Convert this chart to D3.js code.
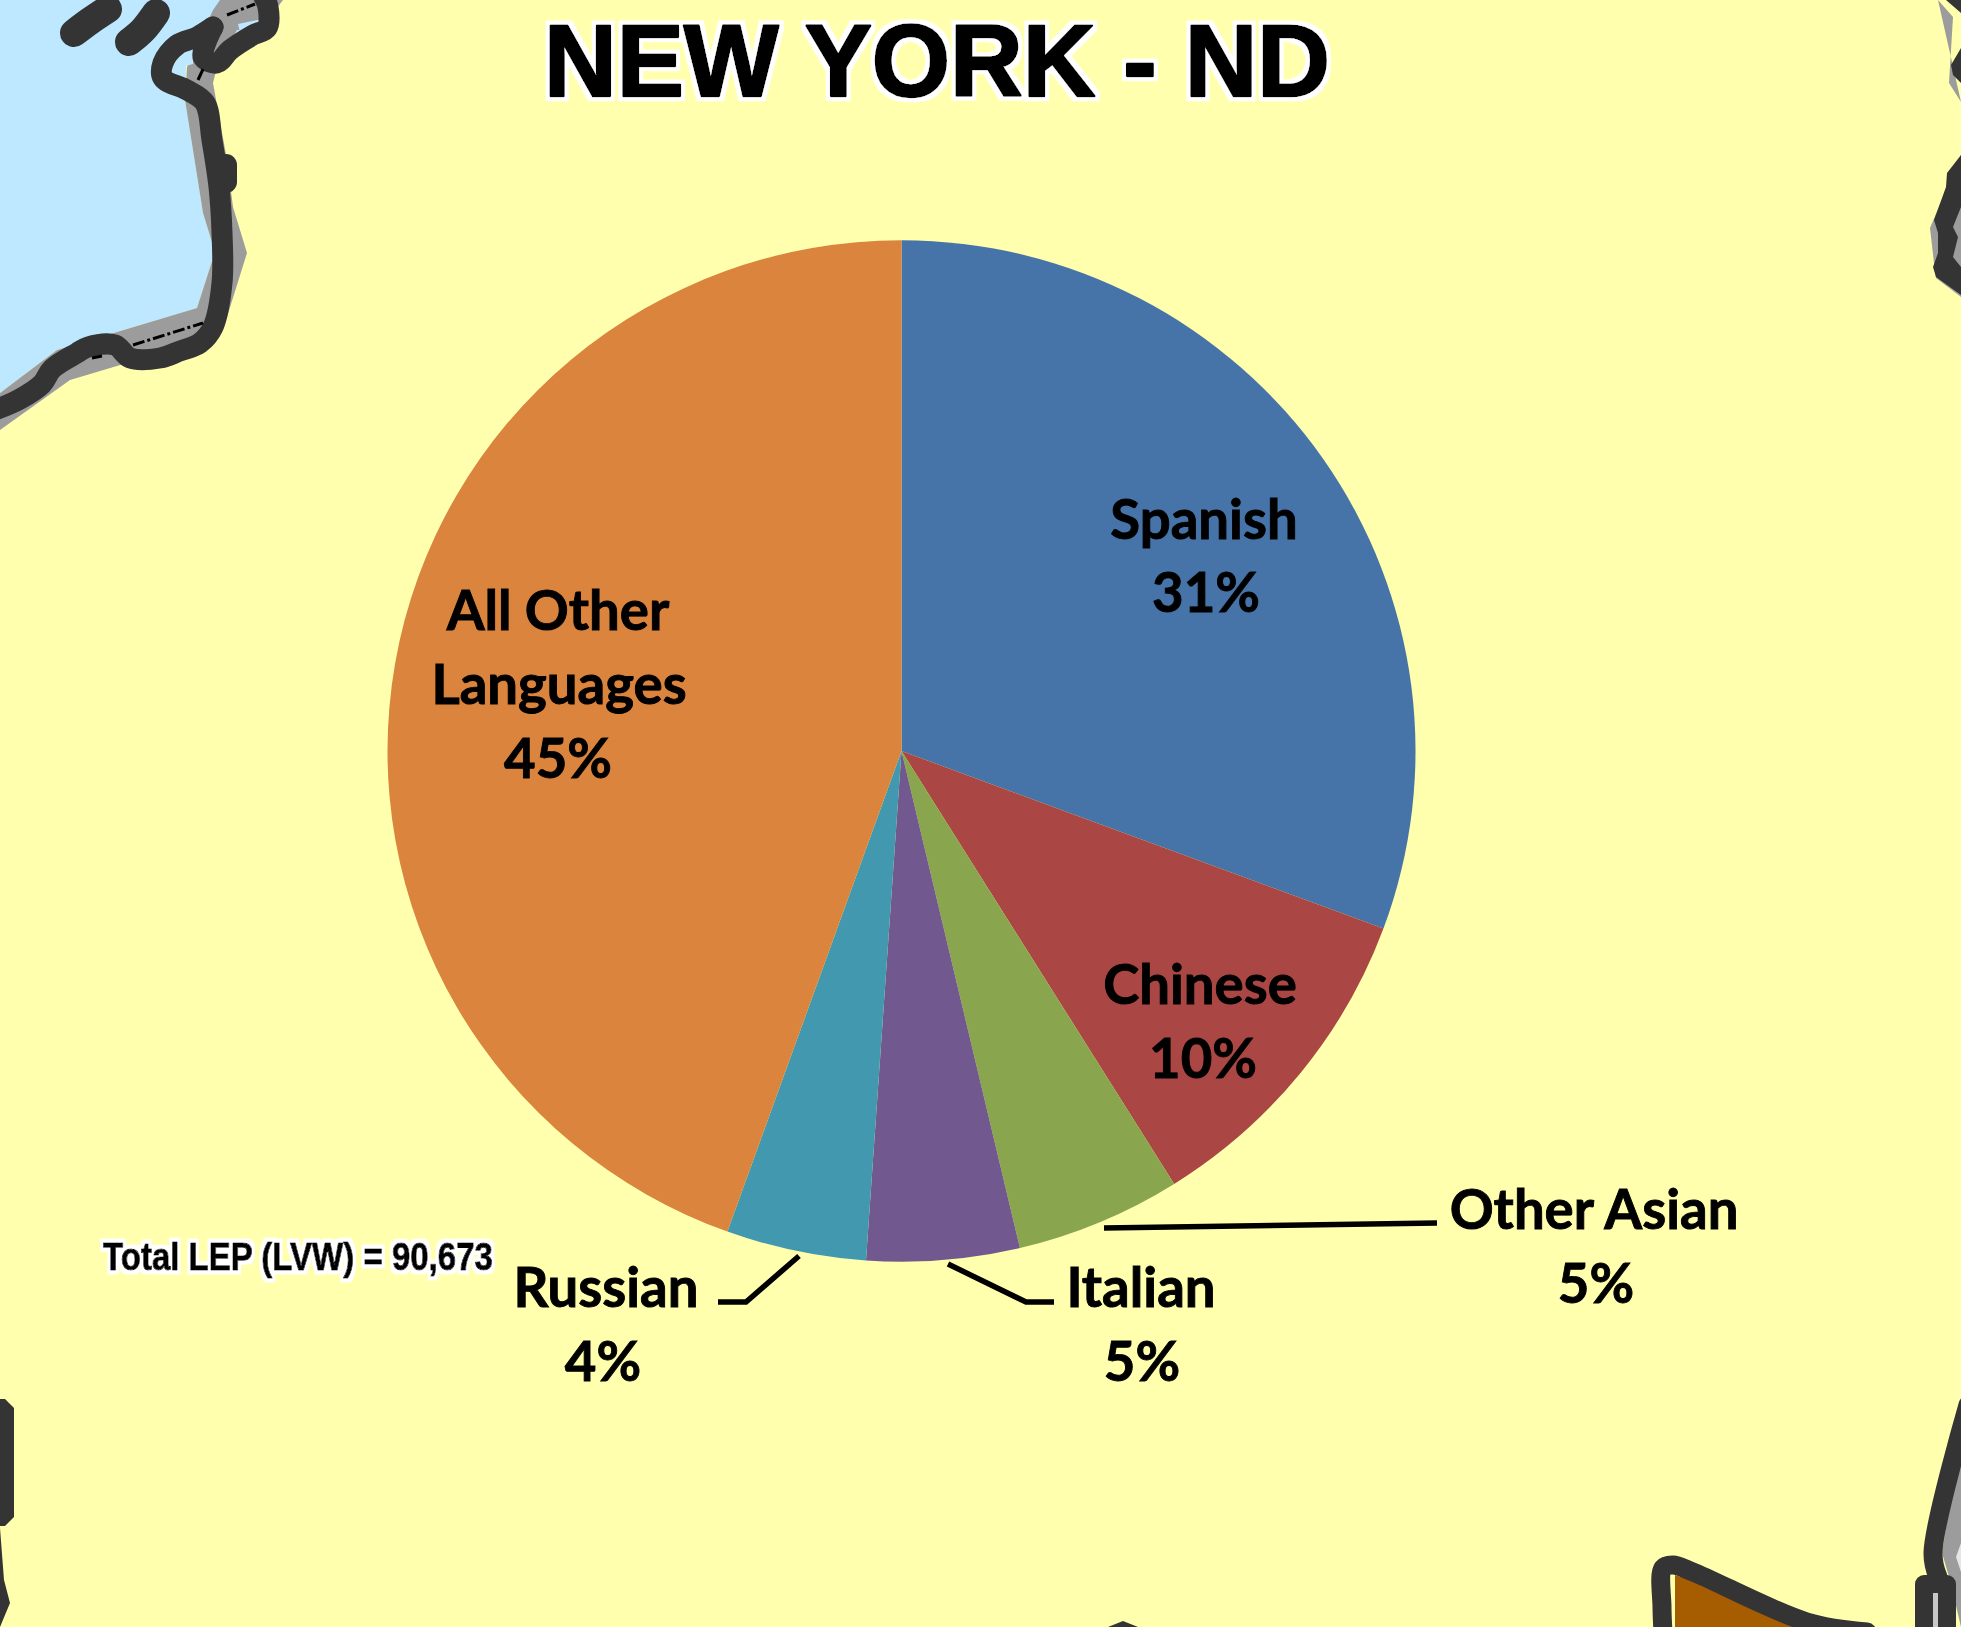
<!DOCTYPE html>
<html>
<head>
<meta charset="utf-8">
<title>NEW YORK - ND</title>
<style>
    html, body { margin: 0; padding: 0; background: #ffffad; }
    svg { display: block; }
    .label { font-family: Lato, sans-serif; font-weight: 700; font-size: 54.5px; fill: #000; stroke: #000; stroke-width: 0.9px; text-anchor: middle; }
    .outlined { font-family: "Liberation Sans", Arial, sans-serif; font-weight: 700; fill: #000; stroke: #000; stroke-linejoin: round; }
</style>
<script src="https://cdnjs.cloudflare.com/ajax/libs/d3/7.8.5/d3.min.js"></script>
</head>
<body>
<script>

    // chart data
    var titleText = "NEW YORK - ND";
    var totalText = "Total LEP (LVW) = 90,673";
    var categories = ["Spanish", "Chinese", "Other Asian", "Italian", "Russian", "All Other Languages"];
    var shares = [30.65, 10.45, 5.2, 4.8, 4.4, 44.5];
    var shareLabels = ["31%", "10%", "5%", "5%", "4%", "45%"];
    var sliceColors = ["#4674a8", "#aa4644", "#89a54e", "#71588f", "#4198af", "#db843d"];

    // label lines, one row per slice: [text, x, baseline]
    var labelLines = [
      [[categories[0], 1204, 539], [shareLabels[0], 1206, 612]],
      [[categories[1], 1200, 1004], [shareLabels[1], 1203, 1078]],
      [[categories[2], 1594, 1229], [shareLabels[2], 1596, 1303]],
      [[categories[3], 1141, 1307], [shareLabels[3], 1142, 1381]],
      [[categories[4], 606, 1307], [shareLabels[4], 603, 1381]],
      [["All Other", 558, 630], ["Languages", 559, 704], [shareLabels[5], 558, 778]]
    ];

    var leaders = [
      [[1437, 1223], [1104, 1228]],
      [[1054, 1302], [1026, 1302], [948, 1264]],
      [[718, 1302], [746, 1302], [799, 1256]]
    ];

    // background map pieces, traced in page pixels
    var water = [[0,0],[265,0],[262,24],[258,24],[186,66],[185,100],[203,213],[215,252],[197,308],[57,350],[0,393]];
    var shoreBand = [[283,0],[260,30],[237,30],[217,67],[213,83],[227,160],[233,207],[247,253],[227,317],[210,347],[127,363],[70,380],[0,430],[0,393],[57,350],[197,308],[215,252],[203,213],[185,100],[187,67],[213,10],[220,0]];
    var pocket = [[172,53],[193,50],[193,64],[178,68]];
    var pocket2 = [[238,24],[262,19],[262,27],[240,32]];
    var coast = [[-5,410],[20,399],[42,384],[52,369],[77,353],[88,347],[115,345],[130,358],[160,358],[180,351],[200,343],[213,327],[222,283],[222,233],[219,187],[212,140],[205,103],[187,90],[163,78],[163,63],[177,45],[197,37],[213,27]];
    var coastBranch = [[213,27],[203,57],[217,63],[230,50],[253,35],[267,28],[268,7],[263,-5]];
    var bump = [[226,165],[226,182]];
    var islands = [[[74,33],[90,21],[108,9]], [[129,42],[143,30],[156,13]]];
    var dashed = [[[227,15],[255,4]], [[198,80],[204,67]], [[133,345],[203,323]], [[92,358],[102,356]]];

    var rightBand = [[1938,0],[1953,17],[1949,83],[1961,102]];
    var rightDarkTop = [[1946,0],[1961,13],[1961,0]];
    var rightDarkMid = [[1961,48],[1951,65],[1953,75],[1961,83]];
    var rightBand2 = [[1961,155],[1930,228],[1934,263],[1936,278],[1961,297]];
    var rightDarkLow = [[1961,155],[1947,173],[1946,187],[1934,220],[1938,233],[1938,253],[1933,267],[1936,277],[1961,295],[1961,267],[1953,257],[1958,237],[1953,227],[1961,207]];

    var brown = [[1675,1575],[1807,1618],[1867,1627],[1675,1627]];
    var brownEdge = [[1663,1632],[1662,1607],[1663,1568],[1673,1565],[1693,1572],[1807,1622],[1867,1632]];
    var lowerBand = [[1961,1433],[1942,1553],[1950,1580],[1961,1627]];
    var lowerLight = [[1961,1543],[1956,1557],[1961,1572]];
    var lowerEdge = [[1968,1405],[1933,1553],[1938,1577]];
    var boxEdge = [[1924,1632],[1924,1584],[1947,1584],[1947,1632]];
    var boxFill = [[1933,1593],[1938,1593],[1938,1627],[1933,1627]];
    var leftBox = [[0,1399],[5,1399],[14,1408],[14,1517],[5,1526],[0,1526]];
    var leftSliver = [[0,1528],[4,1580],[10,1603],[0,1627]];
    var bottomBump = [[1108,1627],[1123,1621],[1138,1627]];

    var width = 1961, height = 1627;
    var cx = 901.5, cy = 751, radius = 514;

    var svg = d3.select("body").append("svg")
        .attr("width", width)
        .attr("height", height);

    svg.append("rect").attr("width", width).attr("height", height).attr("fill", "#ffffad");

    // white halo round the title and the total
    var halo = svg.append("defs").append("filter")
        .attr("id", "halo")
        .attr("x", "-5%").attr("y", "-30%")
        .attr("width", "110%").attr("height", "160%");
    halo.append("feMorphology")
        .attr("in", "SourceAlpha")
        .attr("operator", "dilate")
        .attr("radius", 4)
        .attr("result", "fat");
    halo.append("feFlood").attr("flood-color", "#fff").attr("result", "white");
    halo.append("feComposite")
        .attr("in", "white").attr("in2", "fat")
        .attr("operator", "in")
        .attr("result", "ring");
    var merge = halo.append("feMerge");
    merge.append("feMergeNode").attr("in", "ring");
    merge.append("feMergeNode").attr("in", "SourceGraphic");

    var line = d3.line();
    var dark = "#343434", gray = "#9c9c9c";

    // map layer
    var map = svg.append("g");

    var fillShape = function(pts, col) {
      map.append("path").attr("d", line(pts) + "Z").attr("fill", col);
    }
    var strokeShape = function(pts, col, w) {
      map.append("path").attr("d", d3.line().curve(d3.curveCatmullRom)(pts))
        .attr("fill", "none")
        .attr("stroke", col)
        .attr("stroke-width", w)
        .attr("stroke-linecap", "round")
        .attr("stroke-linejoin", "round");
    }

    fillShape(water, "#bee8ff");
    fillShape(shoreBand, gray);
    fillShape(pocket, "#bee8ff");
    fillShape(pocket2, "#bee8ff");
    fillShape(rightBand, gray);
    fillShape(rightBand2, gray);
    fillShape(rightDarkTop, dark);
    fillShape(rightDarkMid, dark);
    fillShape(rightDarkLow, dark);
    fillShape(lowerBand, gray);
    fillShape(lowerLight, "#e6e6e6");
    fillShape(brown, "#a65c00");
    fillShape(boxFill, "#c8c8c8");
    fillShape(leftBox, dark);
    fillShape(leftSliver, dark);
    fillShape(bottomBump, dark);

    strokeShape(coast, dark, 21);
    strokeShape(coastBranch, dark, 21);
    strokeShape(bump, dark, 22);
    islands.forEach(function(d) { strokeShape(d, dark, 28); });
    dashed.forEach(function(d) {
      map.append("path").attr("d", line(d))
        .attr("stroke", "#000").attr("stroke-width", 3).attr("stroke-dasharray", "12 3 3 3");
    });
    strokeShape(brownEdge, dark, 19);
    strokeShape(lowerEdge, dark, 19);
    map.append("path").attr("d", line(boxEdge))
      .attr("fill", "none").attr("stroke", dark).attr("stroke-width", 18).attr("stroke-linejoin", "round");

    // pie, very slightly flattened like the reference
    var pie = d3.pie().sort(null).value(function(d) { return d; });
    var arc = d3.arc().innerRadius(0).outerRadius(radius);

    svg.append("g")
        .attr("transform", "translate(" + cx + "," + cy + ") scale(1,0.9937)")
      .selectAll("path")
      .data(pie(shares))
      .enter().append("path")
      .attr("d", arc)
      .attr("fill", function(d, i) { return sliceColors[i]; });

    // leader lines
    svg.append("g").selectAll("path")
      .data(leaders)
      .enter().append("path")
      .attr("d", line)
      .attr("fill", "none")
      .attr("stroke", "#000")
      .attr("stroke-width", 5.5);

    // slice labels
    svg.append("g").selectAll("g")
      .data(labelLines)
      .enter().append("g")
      .selectAll("text")
      .data(function(d) { return d; })
      .enter().append("text")
      .attr("class", "label")
      .attr("x", function(d) { return d[1]; })
      .attr("y", function(d) { return d[2]; })
      .text(function(d) { return d[0]; });

    // squeeze the text to the wanted width with a transform, so its box stays honest
    var haloText = function(txt, x, y, size, len, fat) {
      var t = svg.append("text")
        .attr("class", "outlined")
        .attr("font-size", size)
        .attr("stroke-width", fat)
        .attr("filter", "url(#halo)")
        .text(txt);
      var k = len / t.node().getComputedTextLength();
      t.attr("transform", "translate(" + x + "," + y + ") scale(" + k + ",1)");
    }

    haloText(titleText, 544, 96, 102, 786, 2.5);
    haloText(totalText, 103, 1270, 39, 390, 1);

</script>
</body>
</html>
